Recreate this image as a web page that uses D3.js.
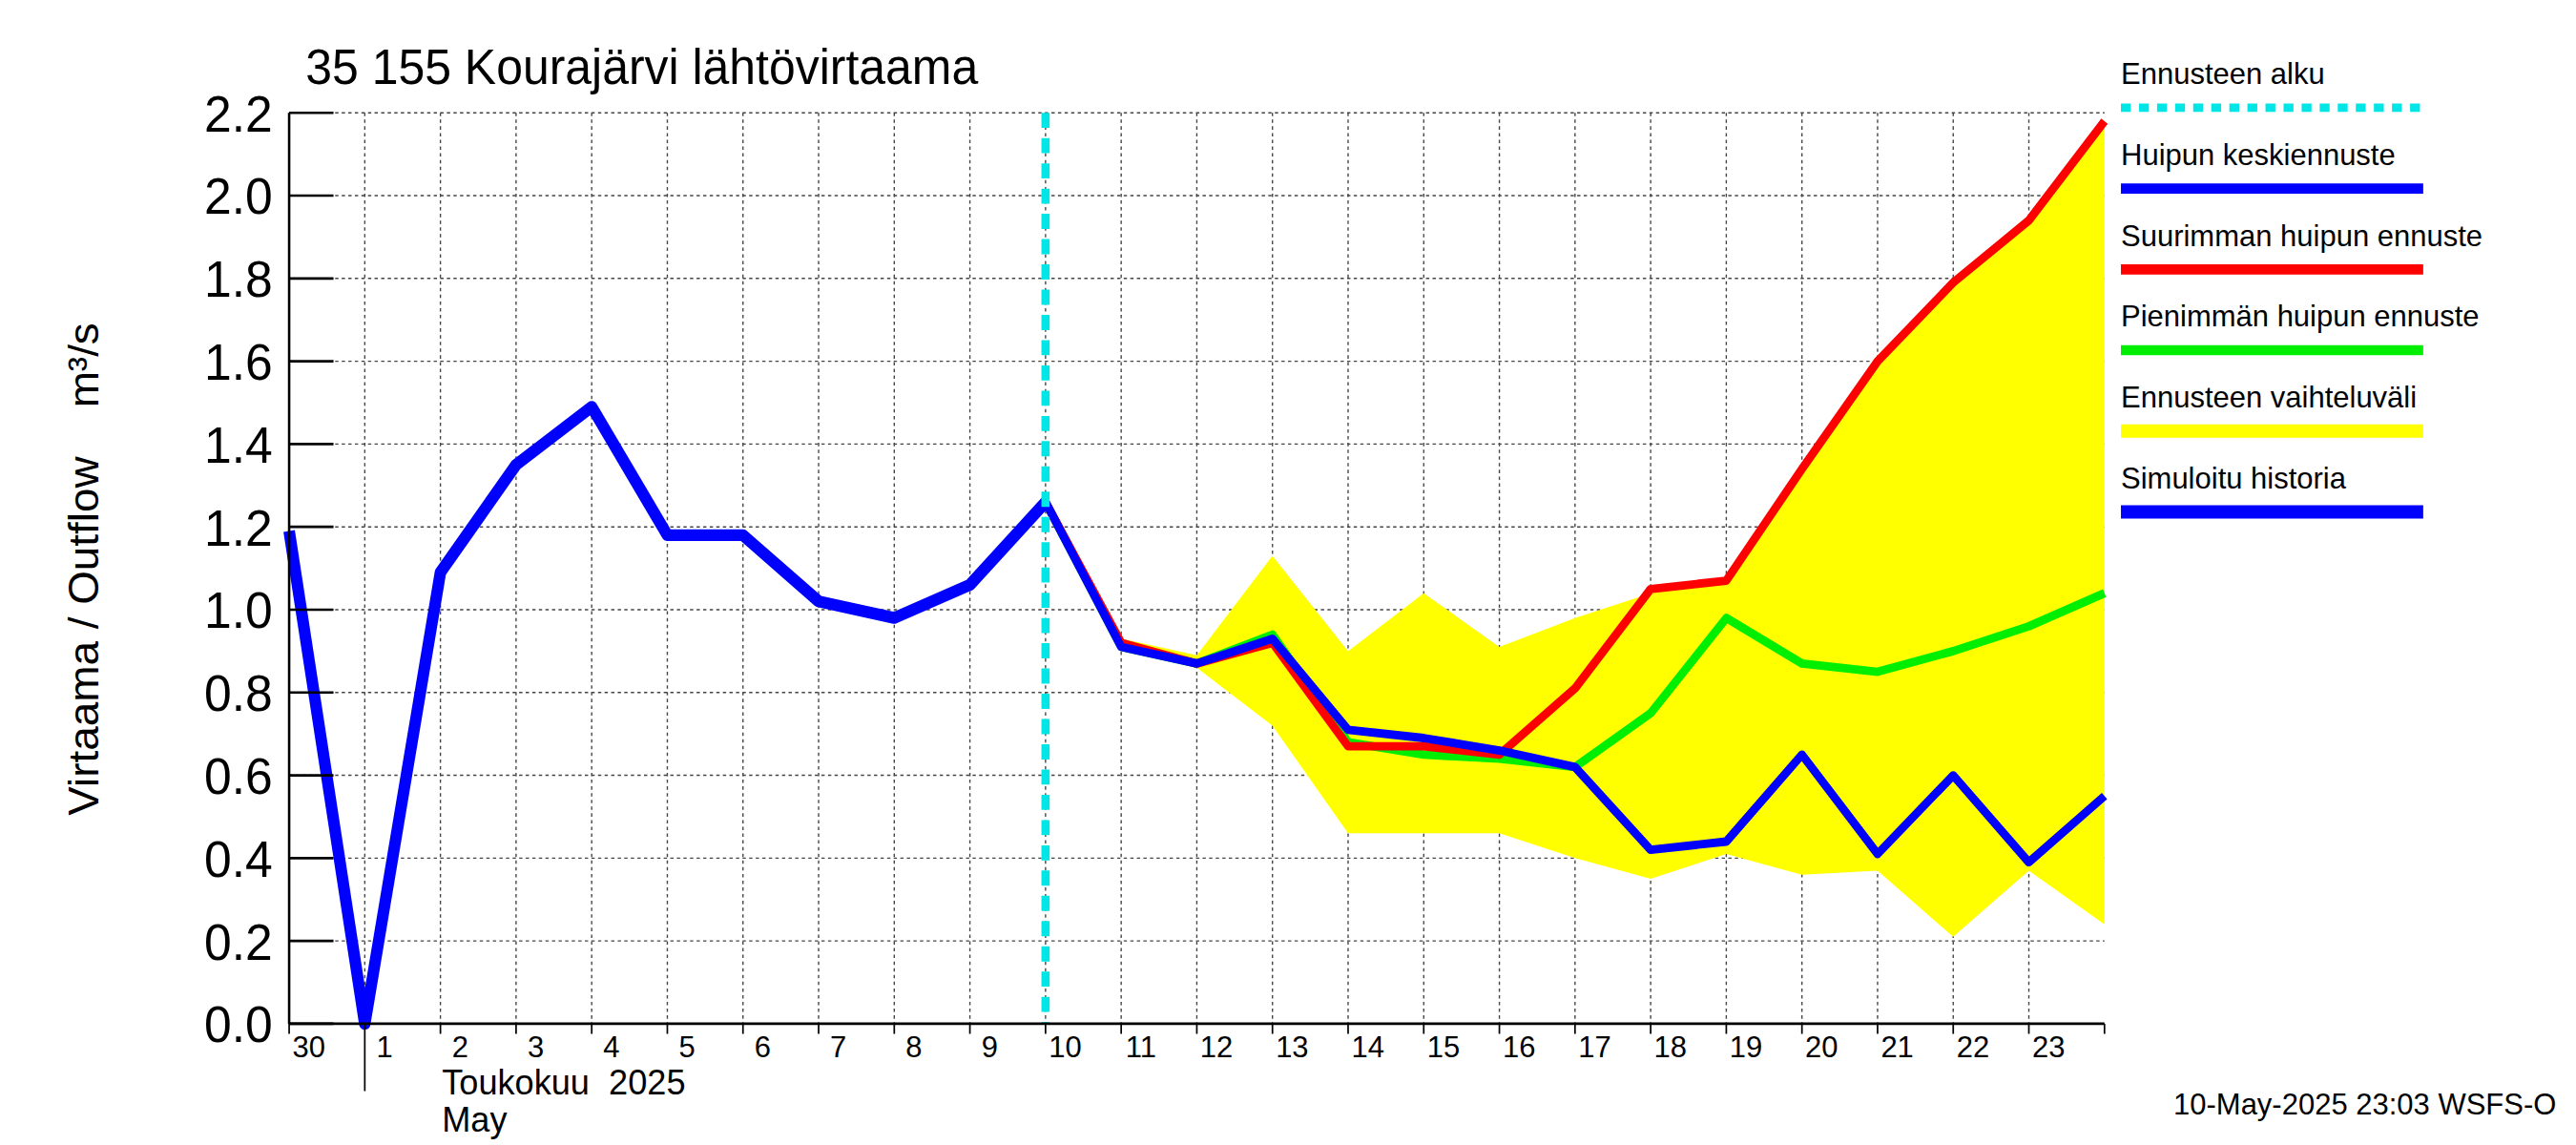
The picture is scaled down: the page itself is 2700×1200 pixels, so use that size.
<!DOCTYPE html>
<html><head><meta charset="utf-8">
<script src="https://cdn.jsdelivr.net/npm/d3@7"></script>
<style>body{margin:0;background:#fff}svg{display:block}</style>
</head><body>
<svg id="chart"></svg>
<script>
// day offsets from 30 Apr
var histDays = [0,1,2,3,4,5,6,7,8,9,10];
var histVals = [1.19,0.0,1.09,1.35,1.49,1.18,1.18,1.02,0.98,1.06,1.26];
var fcDays = [10,11,12,13,14,15,16,17,18,19,20,21,22,23,24];
var meanVals = [1.26,0.91,0.87,0.93,0.71,0.69,0.66,0.62,0.42,0.44,0.65,0.41,0.60,0.39,0.55];
var maxVals = [1.26,0.92,0.87,0.92,0.67,0.67,0.65,0.81,1.05,1.07,1.34,1.60,1.79,1.94,2.18];
var minVals = [1.26,0.91,0.87,0.94,0.68,0.65,0.64,0.62,0.75,0.98,0.87,0.85,0.90,0.96,1.04];
var bandDays = [11,12,13,14,15,16,17,18,19,20,21,22,23,24];
var bandHi = [0.93,0.89,1.13,0.90,1.04,0.91,0.98,1.04,1.07,1.34,1.60,1.79,1.94,2.18];
var bandLo = [0.91,0.86,0.72,0.46,0.46,0.46,0.40,0.35,0.41,0.36,0.37,0.21,0.37,0.24];
var dayLabels = ['30','1','2','3','4','5','6','7','8','9','10','11','12','13','14','15','16','17','18','19','20','21','22','23'];
var yTicks = [0,0.2,0.4,0.6,0.8,1.0,1.2,1.4,1.6,1.8,2.0,2.2];
var legendItems = [
  {label:'Ennusteen alku', color:'#00e5e5', w:5, dash:'6,5'},
  {label:'Huipun keskiennuste', color:'#0000ff', w:6},
  {label:'Suurimman huipun ennuste', color:'#ff0000', w:6},
  {label:'Pienimmän huipun ennuste', color:'#00ee00', w:6},
  {label:'Ennusteen vaihteluväli', color:'#ffff00', w:8},
  {label:'Simuloitu historia', color:'#0000ff', w:8}
];
var forecastStart = 10;

var W = 1568, H = 680;
var svg = d3.select('#chart').attr('width',2700).attr('height',1200)
  .attr('viewBox','0 0 '+W+' '+H).attr('preserveAspectRatio','none');
var narrow = "'Liberation Sans Narrow','Liberation Sans',Arial,sans-serif";

var x = d3.scaleLinear().domain([0,24]).range([176,1281]);
var y = d3.scaleLinear().domain([0,2.2]).range([608,67]);

// grid
svg.append('g').selectAll('line').data(d3.range(1,24)).enter().append('line')
  .attr('x1',d=>x(d)).attr('x2',d=>x(d)).attr('y1',67).attr('y2',608)
  .attr('stroke','#444').attr('stroke-width',0.8).attr('stroke-dasharray','2,2');
svg.append('g').selectAll('line').data(yTicks.slice(1)).enter().append('line')
  .attr('x1',176).attr('x2',1281).attr('y1',d=>y(d)).attr('y2',d=>y(d))
  .attr('stroke','#444').attr('stroke-width',0.8).attr('stroke-dasharray','2,2');

// band
var band = bandDays.map((d,i)=>({d:d,hi:bandHi[i],lo:bandLo[i]}));
svg.append('path').datum(band)
  .attr('d',d3.area().x(d=>x(d.d)).y0(d=>y(d.lo)).y1(d=>y(d.hi)))
  .attr('fill','#ffff00');

var line = d3.line().x(d=>x(d[0])).y(d=>y(d[1]));
function draw(days, vals, color, w){
  svg.append('path').datum(days.map((d,i)=>[d,vals[i]]))
    .attr('d',line).attr('fill','none').attr('stroke',color)
    .attr('stroke-width',w).attr('stroke-linejoin','round');
}
draw(fcDays, minVals, '#00ee00', 5);
draw(fcDays, maxVals, '#ff0000', 5);
draw(fcDays, meanVals, '#0000ff', 5);
draw(histDays, histVals, '#0000ff', 7);

// forecast start
svg.append('line').attr('x1',x(forecastStart)).attr('x2',x(forecastStart))
  .attr('y1',67).attr('y2',608).attr('stroke','#00e5e5')
  .attr('stroke-width',5).attr('stroke-dasharray','9,6');

// axes frame
svg.append('line').attr('x1',176).attr('x2',176).attr('y1',67).attr('y2',608).attr('stroke','#000').attr('stroke-width',1.5);
svg.append('line').attr('x1',176).attr('x2',1281).attr('y1',608).attr('y2',608).attr('stroke','#000').attr('stroke-width',1.5);
svg.append('g').selectAll('line').data(yTicks).enter().append('line')
  .attr('x1',176).attr('x2',203).attr('y1',d=>y(d)).attr('y2',d=>y(d)).attr('stroke','#000').attr('stroke-width',1.5);
svg.append('g').selectAll('text').data(yTicks).enter().append('text')
  .attr('x',166).attr('y',d=>y(d)+11).attr('text-anchor','end')
  .attr('font-family',narrow).attr('font-size',30).text(d=>d.toFixed(1));
svg.append('g').selectAll('line').data(d3.range(0,25)).enter().append('line')
  .attr('x1',d=>x(d)).attr('x2',d=>x(d)).attr('y1',608).attr('y2',d=>d===1?648:614)
  .attr('stroke','#000').attr('stroke-width',1);
svg.append('g').selectAll('text').data(dayLabels).enter().append('text')
  .attr('x',(d,i)=>x(i)+12).attr('y',628).attr('text-anchor','middle')
  .attr('font-family',narrow).attr('font-size',18).text(d=>d);
svg.append('text').attr('x',269).attr('y',650).attr('font-family',narrow).attr('font-size',21)
  .attr('xml:space','preserve').text('Toukokuu  2025');
svg.append('text').attr('x',269).attr('y',672).attr('font-family',narrow).attr('font-size',21).text('May');

// title and y label
svg.append('text').attr('x',186).attr('y',50).attr('font-family',narrow).attr('font-size',29).text('35 155 Kourajärvi lähtövirtaama');
svg.append('text').attr('transform','translate(60,338) rotate(-90)').attr('text-anchor','middle')
  .attr('font-family',"'Liberation Sans',Arial,sans-serif").attr('font-size',26)
  .attr('xml:space','preserve').text('Virtaama / Outflow    m³/s');

// legend
var lg = svg.append('g').selectAll('g').data(legendItems).enter().append('g')
  .attr('transform',(d,i)=>'translate(1291,'+(50+i*48)+')');
lg.append('text').attr('font-family',narrow).attr('font-size',18).text(d=>d.label);
lg.append('line').attr('x1',0).attr('x2',184).attr('y1',14).attr('y2',14)
  .attr('stroke',d=>d.color).attr('stroke-width',d=>d.w).attr('stroke-dasharray',d=>d.dash||null);

svg.append('text').attr('x',1556).attr('y',662).attr('text-anchor','end')
  .attr('font-family',narrow).attr('font-size',18).text('10-May-2025 23:03 WSFS-O');
</script>
</body></html>
